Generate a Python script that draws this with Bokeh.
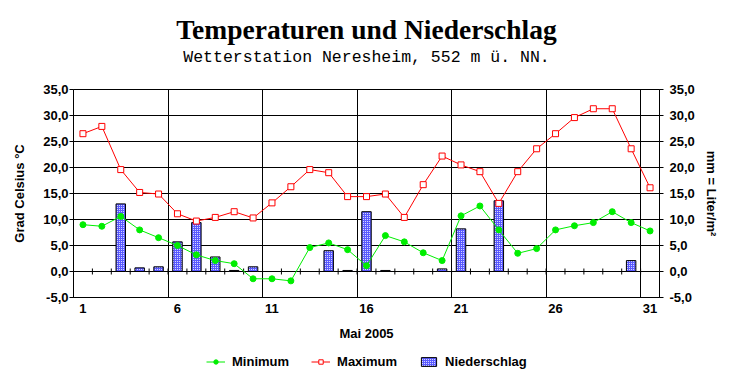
import math
from bokeh.plotting import figure
from bokeh.layouts import column
from bokeh.models import (Range1d, LinearAxis, FixedTicker, CustomJSTickFormatter,
                          Legend, LegendItem, Title)
from bokeh.embed import file_html
from bokeh.resources import INLINE

# ---- data ----
days = list(range(1, 32))
t_min = [9.0, 8.7, 10.6, 8.0, 6.5, 5.0, 3.2, 2.1, 1.5, -1.4,
         -1.4, -1.8, 4.6, 5.5, 4.2, 1.1, 6.9, 5.7, 3.6, 2.1,
         10.7, 12.6, 8.0, 3.5, 4.4, 8.0, 8.8, 9.4, 11.5, 9.4, 7.8]
t_max = [26.5, 27.9, 19.6, 15.2, 14.9, 11.1, 9.7, 10.4, 11.5, 10.3,
         13.2, 16.3, 19.6, 19.0, 14.4, 14.4, 14.9, 10.4, 16.7, 22.2,
         20.5, 19.2, 13.1, 19.2, 23.6, 26.5, 29.6, 31.3, 31.3, 23.6, 16.1]
precip = [0.0, 0.0, 13.0, 0.7, 0.9, 5.7, 9.4, 2.8, 0.2, 0.9,
          0.0, 0.0, 0.0, 4.0, 0.2, 11.5, 0.2, 0.0, 0.0, 0.5,
          8.2, 0.0, 13.6, 0.0, 0.0, 0.0, 0.0, 0.0, 0.0, 2.1, 0.0]
x_label_days = [1, 6, 11, 16, 21, 26, 31]
y_ticks = [-5, 0, 5, 10, 15, 20, 25, 30, 35]

title_text = "Temperaturen und Niederschlag"
subtitle_text = "Wetterstation Neresheim, 552 m ü. NN."
x_label = "Mai 2005"
y_left_label = "Grad Celsius °C"
y_right_label = "mm = Liter/m²"
legend_labels = ["Minimum", "Maximum", "Niederschlag"]

boundaries = [d + 0.5 for d in days[:-1]]
group_bounds = [d + 0.5 for d in days if d % 5 == 0 and d < 31]

SANS = "Liberation Sans"
MIN_COLOR = "#00ee00"
MAX_COLOR = "#ff0000"
BAR_STYLE = dict(fill_color="#5a5aff", hatch_pattern="dot", hatch_color="white",
                 hatch_scale=2, hatch_weight=1, line_color="black", line_width=1)
fmt = CustomJSTickFormatter(code="return tick.toFixed(1).replace('.', ',');")

p = figure(frame_width=586, frame_height=208, x_range=Range1d(0.5, 31.5), y_range=Range1d(-5, 35),
           output_backend="svg", toolbar_location=None,
           min_border_left=73, min_border_right=65, min_border_top=89, min_border_bottom=54)
p.extra_y_ranges = {"precip": Range1d(-5, 35)}
p.outline_line_color = "black"
p.outline_line_width = 1
p.background_fill_color = "white"
p.border_fill_color = "white"

# grids
p.xgrid.ticker = FixedTicker(ticks=group_bounds)
p.xgrid.grid_line_color = "black"
p.xgrid.grid_line_width = 1
p.ygrid.ticker = FixedTicker(ticks=y_ticks)
p.ygrid.grid_line_color = "black"
p.ygrid.grid_line_width = 1

# bottom axis
xa = p.xaxis[0]
xa.ticker = FixedTicker(ticks=x_label_days)
xa.major_tick_in = 0
xa.major_tick_out = 0
xa.minor_tick_line_color = None
xa.axis_line_color = "black"
xa.major_label_standoff = 6
xa.major_label_text_font = SANS
xa.major_label_text_font_style = "bold"
xa.major_label_text_font_size = "13px"
xa.major_label_text_color = "black"
xa.axis_label = x_label
xa.axis_label_text_font = SANS
xa.axis_label_text_font_style = "bold"
xa.axis_label_text_font_size = "13px"
xa.axis_label_text_color = "black"
xa.axis_label_standoff = 10

# left axis
ya = p.yaxis[0]
ya.ticker = FixedTicker(ticks=y_ticks)
ya.formatter = fmt
ya.major_tick_in = 0
ya.major_tick_out = 4
ya.minor_tick_line_color = None
ya.axis_line_color = "black"
ya.major_label_standoff = 1
ya.major_label_text_font = SANS
ya.major_label_text_font_style = "bold"
ya.major_label_text_font_size = "13px"
ya.major_label_text_color = "black"
ya.axis_label = y_left_label
ya.axis_label_text_font = SANS
ya.axis_label_text_font_style = "bold"
ya.axis_label_text_font_size = "13px"
ya.axis_label_text_color = "black"
ya.axis_label_standoff = 13

# right axis
yr = LinearAxis(y_range_name="precip", ticker=FixedTicker(ticks=y_ticks), formatter=fmt,
                major_tick_in=0, major_tick_out=4, minor_tick_line_color=None,
                axis_line_color="black", major_label_standoff=6,
                major_label_text_font=SANS, major_label_text_font_style="bold",
                major_label_text_font_size="13px", major_label_text_color="black",
                axis_label=y_right_label, axis_label_text_font=SANS,
                axis_label_text_font_style="bold", axis_label_text_font_size="13px",
                axis_label_text_color="black", axis_label_standoff=6)
p.add_layout(yr, "right")

# small tick marks on the zero line at each day boundary
p.scatter(x=boundaries, y=[0] * len(boundaries), marker="dash", angle=math.pi / 2,
          size=6, line_color="black", line_width=1)

# bars
p.vbar(x=days, top=precip, bottom=0, width=0.5, y_range_name="precip", **BAR_STYLE)

# lines
p.line(days, t_min, line_color=MIN_COLOR, line_width=1)
p.scatter(days, t_min, marker="circle", size=6, line_color=MIN_COLOR, fill_color=MIN_COLOR)
p.line(days, t_max, line_color=MAX_COLOR, line_width=1)
p.scatter(days, t_max, marker="square", size=6, line_color=MAX_COLOR, fill_color="white")

# titles (stacked outward from the plot frame)
spacer = Title(text=" ", align="center", text_font_size="8px", standoff=10)
p.add_layout(spacer, "above")
sub = Title(text=subtitle_text, align="center", text_font="Liberation Mono",
            text_font_style="normal", text_font_size="16.5px", text_color="black",
            standoff=3)
p.add_layout(sub, "above")
ttl = Title(text=title_text, align="center", text_font="Liberation Serif",
            text_font_style="bold", text_font_size="27.5px", text_color="black",
            standoff=0)
p.add_layout(ttl, "above")

# legend strip below the chart: same series, kept outside its visible range,
# so only the legend swatches show
q = figure(width=724, height=20, x_range=Range1d(0.5, 31.5), y_range=Range1d(1000, 1001),
           output_backend="svg", toolbar_location=None,
           x_axis_location=None, y_axis_location=None,
           min_border=0, min_border_left=0, min_border_right=0,
           min_border_top=0, min_border_bottom=0)
q.outline_line_color = None
q.grid.visible = False
q.background_fill_color = "white"
q.border_fill_color = "white"
g_lmin = q.line(days, t_min, line_color=MIN_COLOR, line_width=1)
g_smin = q.scatter(days, t_min, marker="circle", size=6, line_color=MIN_COLOR, fill_color=MIN_COLOR)
g_lmax = q.line(days, t_max, line_color=MAX_COLOR, line_width=1)
g_smax = q.scatter(days, t_max, marker="square", size=6, line_color=MAX_COLOR, fill_color="white")
g_bar = q.vbar(x=days, top=precip, bottom=0, width=0.5, **BAR_STYLE)

legend = Legend(items=[LegendItem(label=legend_labels[0], renderers=[g_lmin, g_smin]),
                       LegendItem(label=legend_labels[1], renderers=[g_lmax, g_smax]),
                       LegendItem(label=legend_labels[2], renderers=[g_bar])],
                orientation="horizontal", location=(133, 2),
                border_line_color=None, background_fill_alpha=0,
                label_text_font=SANS, label_text_font_style="bold",
                label_text_font_size="13px", label_text_color="black",
                glyph_width=19, glyph_height=11, label_height=15,
                label_standoff=7, spacing=22, padding=0, margin=0)
q.add_layout(legend)

layout = column(p, q, spacing=0)
open("out.html", "w").write(file_html(layout, INLINE))
